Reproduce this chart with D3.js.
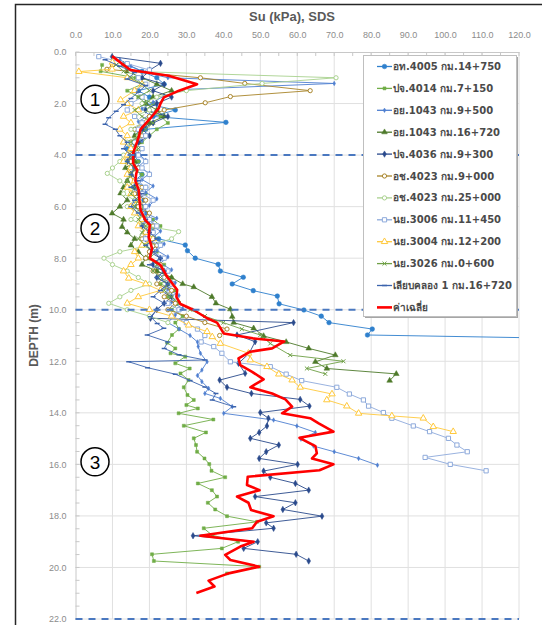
<!DOCTYPE html>
<html>
<head>
<meta charset="utf-8">
<script src="https://cdn.jsdelivr.net/npm/d3@7"></script>
<style>
  body { margin: 0; background: #fff; }
  svg { display: block; }
</style>
</head>
<body>
<svg id="chart" width="542" height="625"></svg>
<script>
// ---- axis values ----
const suTicks = [0, 10, 20, 30, 40, 50, 60, 70, 80, 90, 100, 110, 120];
const depthTicks = [0, 2, 4, 6, 8, 10, 12, 14, 16, 18, 20, 22];
const layerBoundaries = [4, 10, 22];
const layerNames = ["1", "2", "3"];

// ---- Su profiles: [depth (m), Su (kPa)] ----
const suAT4005 = [[0.5,14],[0.75,18],[1.0,22],[1.25,24],[1.5,17],[1.75,20],[2.0,19],[2.25,27],[2.5,21],[2.73,40.7],[3.0,19],[3.25,17],[3.5,15],[3.75,14],[4.0,16],[4.25,17],[4.5,15.5],[4.75,18],[5.0,16],[5.25,19],[5.5,17],[5.75,18.5],[6.0,16.5],[6.25,19],[6.5,18],[6.75,21],[7.0,20],[7.25,22.5],[7.49,29.7],[7.71,30.3],[8.0,32.4],[8.24,38.6],[8.5,39.2],[8.74,45.4],[9.0,42.4],[9.26,48.1],[9.47,54.6],[9.77,55.1],[10.01,61.8],[10.25,66.5],[10.5,68.6],[10.75,80.3],[10.98,79],[11.13,140]];

const suPJ4014 = [[0.5,7.2],[0.75,6.8],[1.0,16.2],[1.25,18],[1.5,14],[1.75,17],[2.0,21],[2.25,19],[2.5,23],[2.75,25],[3.0,22],[3.25,20],[3.5,18],[3.75,16],[4.0,14.5],[4.25,17],[4.5,15],[4.75,18],[5.0,17],[5.25,15.5],[5.5,19],[5.75,16],[6.0,18.5],[6.25,17],[6.5,21],[6.75,23],[7.0,19],[7.25,21.5],[7.5,18],[7.75,22],[8.0,20],[8.25,24],[8.5,22],[8.75,26],[9.0,23],[9.25,27],[9.5,25],[9.75,28],[10.0,26],[10.25,29],[10.5,27],[10.75,28],[10.98,26.1],[11.28,24.8],[11.5,27],[11.69,25.7],[11.82,29.7],[12.08,27],[12.28,30.9],[12.47,28.4],[12.73,30.6],[13.01,29.3],[13.31,30.3],[13.5,32],[13.7,30],[13.83,33.1],[14.02,27.9],[14.26,37.3],[14.5,29.3],[14.76,35.3],[14.99,32],[15.25,32.6],[15.51,32.9],[15.77,34.9],[15.99,36.2],[16.25,36.8],[16.5,40.5],[16.74,33.1],[17.0,36.9],[17.25,38.3],[17.49,35.8],[17.75,37.8],[18.01,41],[18.23,49.1],[18.48,34.7],[18.75,37],[19.0,44],[19.26,39.6],[19.49,20.7],[19.75,21.2],[19.97,49.7],[20.23,41]];

const suAY1043a = [[0.3,12],[0.55,15],[0.8,19],[1.0,25],[1.22,70],[1.45,30],[1.7,24],[1.95,21],[2.2,18],[2.45,20],[2.7,17],[2.95,19],[3.2,16],[3.45,18],[3.7,15],[3.95,17],[4.2,19],[4.45,17],[4.7,20],[4.95,18],[5.2,21],[5.45,19],[5.7,22],[5.95,20],[6.2,18],[6.45,22],[6.7,20],[6.95,23],[7.2,21],[7.45,24],[7.7,22],[7.95,25],[8.2,23],[8.45,26],[8.7,24],[8.95,27],[9.2,25],[9.45,28],[9.7,26],[9.95,29],[10.2,27],[10.5,25],[10.75,28],[11.0,31],[11.25,33],[11.43,33.2],[11.69,33.8],[12.02,35.6],[12.34,34.2],[12.55,33],[12.79,34.2],[13.05,36],[13.25,35],[13.44,39.2],[13.76,42.4],[14.02,40.1],[14.28,53.6],[14.51,59.9],[14.76,64.9],[15.02,61],[15.29,64.4],[15.51,70],[15.77,76.6],[16.03,81.7]];

const suAY1043b = [[0.5,13],[0.75,14],[1.0,18],[1.25,22],[1.5,26],[1.75,21],[2.0,19],[2.25,22],[2.5,24],[2.75,20],[3.0,18],[3.25,16],[3.5,17],[3.75,15],[4.0,14],[4.25,16],[4.5,13.5],[4.75,15],[5.0,14],[5.25,13],[5.48,12.2],[5.75,14],[6.0,12],[6.26,9.9],[6.5,13],[6.78,12.6],[7.0,14],[7.25,16],[7.5,15],[7.75,17],[8.0,19],[8.25,18],[8.5,22],[8.75,26],[9.0,29],[9.12,32],[9.5,36.9],[9.75,38],[9.98,41.9],[10.27,42.4],[10.5,42.8],[10.72,48.2],[11.02,50.9],[11.25,57],[11.5,63.1],[11.76,70.3],[12.02,64.9],[12.28,68],[12.49,86.8],[12.75,85]];

const suPJ4036 = [[0.18,9.9],[0.44,23],[0.7,20.1],[1.0,18],[1.25,24],[1.5,21],[1.75,26],[2.0,22],[2.25,19],[2.5,25],[2.75,21],[3.0,18],[3.25,20],[3.5,17],[3.75,15],[4.0,16],[4.25,14],[4.5,16],[4.75,15],[5.0,17],[5.25,16],[5.5,18],[5.75,16],[6.0,19],[6.25,17],[6.5,20],[6.75,18],[7.0,21],[7.25,19],[7.5,22],[7.75,20],[8.0,23],[8.25,21],[8.5,24],[8.75,22],[9.0,25],[9.25,23],[9.5,26],[9.75,24],[10.0,22],[10.33,20.3],[10.5,59],[10.98,43.7],[11.24,48.6],[11.69,47],[12.08,44.1],[12.47,45.9],[12.73,39],[13.01,41],[13.25,47.6],[13.48,60.8],[13.74,63.3],[13.99,50],[14.21,52.2],[14.51,51.8],[14.76,49.7],[14.99,47.3],[15.25,55],[15.51,51.6],[15.77,49.7],[16.0,60.1],[16.26,50.9],[16.5,52.7],[16.74,59.5],[17.0,63.1],[17.25,48.6],[17.49,59.5],[17.75,56.1],[18.01,66.7],[18.27,51.6],[18.48,53.6],[18.77,31.8],[19.0,49.3],[19.26,45.5],[19.49,59.7],[19.75,63.1]];

const suOC4023a = [[0.5,10],[0.67,8.5],[1.0,33.8],[1.22,45.8],[1.5,63.5],[1.73,41.9],[1.97,35.1],[2.25,24],[2.5,20],[2.75,18],[3.0,16],[3.25,18],[3.5,15],[3.75,17],[4.0,14],[4.25,15],[4.5,17],[4.75,14.5],[5.0,16],[5.25,18],[5.5,16],[5.75,19],[6.0,17],[6.25,20],[6.5,18],[6.75,21],[7.0,19],[7.25,18],[7.5,22],[7.75,20],[8.0,19],[8.25,23],[8.5,21],[8.75,24],[9.0,22],[9.25,26],[9.5,24],[9.75,27],[10.0,25],[10.25,30],[10.5,35],[10.75,41],[11.0,39]];

const suOC4023b = [[0.5,12],[0.75,15],[1.0,70.5],[1.22,50.5],[1.5,30],[1.75,22],[2.0,18],[2.25,20],[2.5,16],[2.75,18],[3.0,15],[3.25,17],[3.5,14],[3.75,16],[4.0,13],[4.25,12],[4.5,10],[4.71,8.6],[5.0,12],[5.25,14],[5.5,13],[5.75,16],[6.0,14],[6.25,17],[6.5,15],[6.75,19],[6.97,27.9],[7.25,26],[7.5,20],[7.75,12],[8.0,7.7],[8.25,10],[8.5,14],[8.75,17],[9.0,20],[9.25,15],[9.5,12],[9.75,9],[10.0,14],[10.25,20],[10.5,25]];

const suNY3006 = [[0.18,6.3],[0.45,14],[0.7,20],[1.0,17],[1.25,19],[1.5,16],[1.75,18],[2.0,15],[2.25,14],[2.5,16],[2.75,18],[3.0,17],[3.25,19],[3.5,16],[3.75,18],[4.0,17],[4.25,19],[4.5,18],[4.75,20],[5.0,17],[5.25,19],[5.5,18],[5.75,21],[6.0,19],[6.25,18],[6.5,20],[6.75,22],[7.0,21],[7.25,19],[7.5,23],[7.75,21],[8.0,24],[8.25,22],[8.5,25],[8.75,23],[9.0,26],[9.25,24],[9.5,27],[9.75,25],[10.0,28],[10.25,26],[10.5,30],[10.75,33],[11.0,35],[11.25,34],[11.43,37.4],[11.69,39.6],[12.02,41.9],[12.21,52.7],[12.5,57],[12.75,61.2],[13.01,70.7],[13.27,74.1],[13.5,77.9],[13.74,79.3],[13.99,83.3],[14.21,85.6],[14.51,91.4],[14.73,95.8],[14.99,100.9],[15.25,103.2],[15.51,106],[15.73,94.6],[16.0,101.4],[16.25,111.1]];

const suNY3004 = [[0.4,10],[0.67,9.9],[0.76,0.9],[1.0,14],[1.25,18],[1.5,16],[1.86,12.2],[2.0,14],[2.25,17],[2.5,13],[2.75,15],[3.0,12],[3.25,14],[3.5,13],[3.75,15],[4.0,14],[4.25,13],[4.5,15],[4.75,14],[5.0,16],[5.25,14],[5.5,15],[5.75,17],[6.0,15],[6.25,16],[6.5,18],[6.75,17],[7.0,19],[7.25,21],[7.5,18],[7.75,16],[8.0,17],[8.25,15],[8.5,13],[8.78,14.4],[9.0,19],[9.25,23],[9.5,17],[9.75,14],[10.0,20],[10.25,26],[10.6,30.6],[10.85,35.6],[11.05,37],[11.31,39.2],[11.69,46.8],[11.95,47.3],[12.21,51.8],[12.5,55],[12.73,58.6],[13.01,60.8],[13.27,69.4],[13.5,68],[13.74,73.4],[14.02,76.6],[14.12,85.6],[14.21,94.1],[14.54,96.8],[14.73,102.2]];

const suNY3026 = [[0.5,11],[0.75,13],[1.0,15],[1.25,18],[1.5,20],[1.75,17],[2.0,19],[2.25,16],[2.5,18],[2.75,21],[3.0,19],[3.25,17],[3.5,15],[3.75,17],[4.0,15],[4.25,14],[4.5,16],[4.75,15],[5.0,14],[5.25,16],[5.5,15],[5.75,17],[6.0,16],[6.25,18],[6.5,17],[6.75,19],[7.0,18],[7.25,17],[7.5,19],[7.75,21],[8.0,20],[8.25,22],[8.5,21],[8.75,23],[9.0,25],[9.25,24],[9.5,26],[9.75,28],[10.0,31],[10.25,35],[10.5,40],[10.75,45],[10.98,50],[11.31,52.7],[11.76,58.1],[12.0,72.5],[12.28,62.6],[12.49,67.6]];

const suKlong1 = [[0.3,8],[0.55,12],[0.8,16],[1.05,14],[1.3,19],[1.55,17],[1.8,15],[2.05,13],[2.3,11],[2.55,9],[2.8,8],[3.0,10.8],[3.25,12],[3.5,14],[3.75,13],[4.0,15],[4.25,14],[4.5,16],[4.75,15],[5.0,17],[5.25,15],[5.5,18],[5.75,16],[6.0,15],[6.25,17],[6.5,19],[6.75,18],[7.0,20],[7.25,22],[7.5,19],[7.75,21],[8.0,23],[8.25,20],[8.5,24],[8.75,22],[9.0,25],[9.25,23],[9.5,21],[9.75,24],[10.0,22],[10.27,20.3],[10.53,22.1],[10.72,23.9],[10.98,19.4],[11.25,25],[11.5,24],[11.75,28],[11.95,35],[12.02,14.4],[12.25,19.5],[12.5,27],[12.75,31],[13.0,35],[13.25,38],[13.5,37],[13.76,42.8]];

const suAverage = [[0.16,9.9],[0.45,12.5],[0.7,14.9],[0.92,25.2],[1.25,32.9],[1.5,28],[1.76,23.9],[2.0,23],[2.19,22.5],[2.57,20.3],[3.0,17.6],[3.25,17.2],[3.48,16.7],[3.75,16],[3.93,15.6],[4.32,15.6],[4.58,16.7],[4.75,16.4],[5.0,16.2],[5.35,17.1],[5.75,17.3],[6.13,17.6],[6.52,18.9],[6.71,20.1],[7.17,19.8],[7.62,20.7],[8.0,20.1],[8.27,23],[8.72,24.8],[9.23,27.5],[9.5,27.3],[9.78,28.4],[10.01,32],[10.33,35.6],[10.5,38.3],[10.92,40.1],[11.11,48],[11.23,56.5],[11.5,53.2],[11.63,47.3],[11.89,44.1],[12.15,44.6],[12.41,47.8],[12.7,50.9],[13.01,47.3],[13.25,53.2],[13.48,56.8],[13.76,58.6],[14.02,55.9],[14.21,63.5],[14.41,65.8],[14.73,69.8],[14.97,60.6],[15.29,64.9],[15.57,65.3],[15.77,64],[16.0,69.8],[16.23,66],[16.48,46.6],[16.8,46.4],[17.0,49.8],[17.25,43.7],[17.49,46.8],[17.77,47.5],[18.01,53.6],[18.23,49.1],[18.48,47.8],[18.77,33.8],[19.0,48.2],[19.19,44.6],[19.51,40.5],[19.71,41.9],[19.97,49.7],[20.23,41.4],[20.51,36],[20.74,37.6],[20.99,32.7]];

// ---- series styling ----
const series = [
  { name: "อท.4005 กม.14+750", data: suAT4005, color: "#2f80cd", marker: "circle", open: false, size: 17 },
  { name: "ปจ.4014 กม.7+150", data: suPJ4014, color: "#70ad47", marker: "square", open: false, size: 9 },
  { name: "อย.1043 กม.9+500", data: suAY1043a, color: "#4f7fd0", marker: "diamond", open: false, size: 6 },
  { name: "อย.1043 กม.16+720", data: suAY1043b, color: "#4e7a2b", marker: "triangle", open: false, size: 14 },
  { name: "ปจ.4036 กม.9+300", data: suPJ4036, color: "#2a4a8c", marker: "diamond", open: false, size: 12 },
  { name: "อช.4023 กม.9+000", data: suOC4023a, color: "#a9852a", marker: "circle", open: true, size: 14 },
  { name: "อช.4023 กม.25+000", data: suOC4023b, color: "#a9d18e", marker: "circle", open: true, size: 14 },
  { name: "นย.3006 กม.11+450", data: suNY3006, color: "#8eaadb", marker: "square", open: true, size: 18 },
  { name: "นย.3004 กม.12+200", data: suNY3004, color: "#ffc93c", marker: "triangle", open: true, size: 18 },
  { name: "นย.3026 กม.0+600", data: suNY3026, color: "#6fa046", marker: "x", open: false, size: 12 },
  { name: "เลียบคลอง 1 กม.16+720", data: suKlong1, color: "#3c64ad", marker: "dash", open: false, size: 0 },
  { name: "ค่าเฉลี่ย", data: suAverage, color: "#ff0000", marker: "none", open: false, size: 0, width: 2.6 }
];

// ---- layout ----
const svg = d3.select("#chart");
const plot = { left: 75.5, right: 519, top: 52, bottom: 619 };
const x = d3.scaleLinear().domain([0, 120]).range([plot.left, plot.right]);
const y = d3.scaleLinear().domain([0, 22]).range([plot.top, plot.bottom]);
const labelFont = "'Liberation Sans', Arial, sans-serif";

// outer chart frame
svg.append("rect").attr("x", 15.5).attr("y", 4.5).attr("width", 600).attr("height", 700)
  .attr("fill", "#fff").attr("stroke", "#262626").attr("stroke-width", 1.5);

svg.append("defs").append("clipPath").attr("id", "plotClip")
  .append("rect").attr("x", plot.left).attr("y", plot.top)
  .attr("width", plot.right - plot.left).attr("height", plot.bottom - plot.top);

// gridlines
const grid = svg.append("g");
grid.selectAll(".vg").data(suTicks.filter(d => d > 0)).join("line")
  .attr("x1", d => x(d)).attr("x2", d => x(d))
  .attr("y1", plot.top).attr("y2", plot.bottom)
  .attr("stroke", "#e0e0e0").attr("stroke-width", 1);
grid.selectAll(".hg").data(depthTicks.filter(d => d > 0)).join("line")
  .attr("x1", plot.left).attr("x2", plot.right)
  .attr("y1", d => y(d)).attr("y2", d => y(d))
  .attr("stroke", "#e0e0e0").attr("stroke-width", 1);

// axes (top Su axis, left depth axis)
const xAxis = d3.axisTop(x).tickValues(suTicks).tickFormat(d3.format(".1f")).tickSize(0).tickPadding(14);
const yAxis = d3.axisLeft(y).tickValues(depthTicks).tickFormat(d3.format(".1f")).tickSize(0).tickPadding(9);
const gx = svg.append("g").attr("transform", `translate(0,${plot.top})`).call(xAxis);
const gy = svg.append("g").attr("transform", `translate(${plot.left},0)`).call(yAxis);
[gx, gy].forEach(g => {
  g.select(".domain").attr("stroke", "#c8c8c8");
  g.selectAll("text").attr("fill", "#8c8c8c").style("font-family", labelFont).style("font-size", "9px");
});
// minor ticks
const minorY = d3.range(0, 22.01, 0.5);
svg.append("g").selectAll("line").data(minorY).join("line")
  .attr("x1", plot.left).attr("x2", plot.left + 4)
  .attr("y1", d => y(d)).attr("y2", d => y(d))
  .attr("stroke", "#c8c8c8");
const minorX = d3.range(0, 120.01, 5);
svg.append("g").selectAll("line").data(minorX).join("line")
  .attr("x1", d => x(d)).attr("x2", d => x(d))
  .attr("y1", plot.top).attr("y2", plot.top + 4)
  .attr("stroke", "#c8c8c8");

// titles
svg.append("text").attr("x", 292).attr("y", 21).attr("text-anchor", "middle")
  .style("font-family", labelFont).style("font-weight", "bold").style("font-size", "13px")
  .attr("fill", "#595959").text("Su (kPa), SDS");
svg.append("text").attr("transform", `translate(38,${(plot.top + plot.bottom) / 2}) rotate(-90)`)
  .attr("text-anchor", "middle")
  .style("font-family", labelFont).style("font-weight", "bold").style("font-size", "12px")
  .attr("fill", "#595959").text("DEPTH (m)");

// markers
function drawMarker(sel, s) {
  if (s.marker === "none") return;
  if (s.marker === "dash") {
    sel.append("line").attr("x1", -2.5).attr("x2", 2.5).attr("y1", 0).attr("y2", 0)
      .attr("stroke", s.color).attr("stroke-width", 1.5);
    return;
  }
  const types = { circle: d3.symbolCircle, square: d3.symbolSquare, triangle: d3.symbolTriangle,
                  diamond: d3.symbolDiamond, x: d3.symbolX };
  const path = d3.symbol().type(types[s.marker]).size(s.size)();
  if (s.marker === "x") {
    sel.append("path").attr("d", path).attr("fill", "none").attr("stroke", s.color).attr("stroke-width", 1);
  } else {
    sel.append("path").attr("d", path)
      .attr("fill", s.open ? "#fff" : s.color)
      .attr("stroke", s.color).attr("stroke-width", s.open ? 1 : 0.5);
  }
}

// data series
const line = d3.line().x(d => x(d[1])).y(d => y(d[0]));
const dataLayer = svg.append("g").attr("clip-path", "url(#plotClip)");
series.forEach(s => {
  const g = dataLayer.append("g");
  g.append("path").datum(s.data).attr("d", line)
    .attr("fill", "none").attr("stroke", s.color)
    .attr("stroke-width", s.width || 1).attr("stroke-linejoin", "round").attr("opacity", s.width ? 1 : 0.9);
  if (s.marker !== "none") {
    g.selectAll("g.m").data(s.data.filter(d => d[1] <= 120)).join("g")
      .attr("transform", d => `translate(${x(d[1])},${y(d[0])})`)
      .each(function () { drawMarker(d3.select(this), s); });
  }
});

// layer boundaries
svg.append("g").selectAll("line").data(layerBoundaries).join("line")
  .attr("x1", plot.left).attr("x2", plot.right)
  .attr("y1", d => y(d)).attr("y2", d => y(d))
  .attr("stroke", "#4a78c0").attr("stroke-width", 2).attr("stroke-dasharray", "7,6");

// layer numbers
const layerMid = [1.83, 6.84, 15.9];
const circ = svg.append("g").selectAll("g").data(layerNames).join("g")
  .attr("transform", (d, i) => `translate(95,${y(layerMid[i])})`);
circ.append("circle").attr("r", 14).attr("fill", "#fff").attr("stroke", "#000").attr("stroke-width", 1.5);
circ.append("text").attr("text-anchor", "middle").attr("dy", "0.36em")
  .style("font-family", labelFont).style("font-size", "19px").attr("fill", "#000")
  .text(d => d);

// legend
const lg = svg.append("g").attr("transform", "translate(363,55)");
lg.append("rect").attr("x", 2).attr("y", 2).attr("width", 153).attr("height", 261).attr("fill", "#a6a6a6");
lg.append("rect").attr("x", 0.5).attr("y", 0.5).attr("width", 153).attr("height", 261)
  .attr("fill", "#fff").attr("stroke", "#bfbfbf");
const items = lg.selectAll("g.item").data(series).join("g")
  .attr("transform", (d, i) => `translate(0,${11.5 + i * 21.9})`);
items.append("line").attr("x1", 14).attr("x2", 29).attr("y1", 0).attr("y2", 0)
  .attr("stroke", d => d.color).attr("stroke-width", d => d.width || 1.3);
items.append("g").attr("transform", "translate(21.5,0)")
  .each(function (d) { drawMarker(d3.select(this), d); });
items.append("text").attr("x", 30).attr("dy", "0.35em")
  .style("font-family", "Tahoma, 'DejaVu Sans', 'Noto Sans', sans-serif")
  .style("font-weight", "bold").style("font-size", "10px").attr("fill", "#4a4a4a")
  .text(d => d.name);
</script>
</body>
</html>
